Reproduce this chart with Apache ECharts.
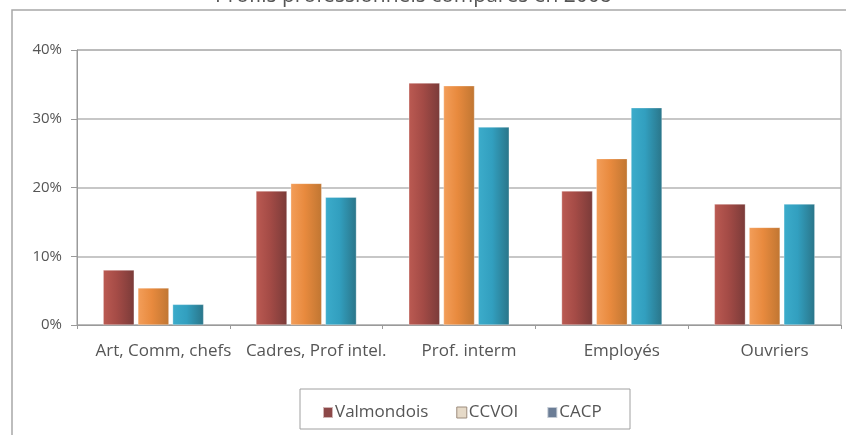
<!DOCTYPE html>
<html>
<head>
<meta charset="utf-8">
<script src="https://cdn.jsdelivr.net/npm/echarts@6/dist/echarts.min.js"></script>
<style>
  html, body { margin: 0; padding: 0; background: #fff; }
  #chart { width: 846px; height: 435px; }
</style>
</head>
<body>
<div id="chart"></div>
<script>
// Professional categories
const categories = ['Art, Comm, chefs', 'Cadres, Prof intel.', 'Prof. interm', 'Employés', 'Ouvriers'];

// Share of each category (%)
const valmondois = [8.0, 19.5, 35.2, 19.5, 17.6];
const ccvoi      = [5.4, 20.6, 34.8, 24.2, 14.2];
const cacp       = [3.0, 18.6, 28.8, 31.6, 17.6];

const seriesNames = ['Valmondois', 'CCVOI', 'CACP'];

const FONT = 'Open Sans';

function grad(light, mid, dark) {
  return new echarts.graphic.LinearGradient(0, 0, 1, 0, [
    { offset: 0, color: light },
    { offset: 0.45, color: mid },
    { offset: 1, color: dark }
  ]);
}

const chart = echarts.init(document.getElementById('chart'), null, { renderer: 'canvas' });

const barBase = {
  type: 'bar',
  barWidth: 31,
  barGap: '12%',
  itemStyle: { borderColor: 'rgba(255,255,255,0.6)', borderWidth: 0.5 }
};

chart.setOption({
  animation: false,
  backgroundColor: '#ffffff',
  title: {
    text: 'Profils professionnels comparés en 2008',
    left: 215,
    top: -14,
    padding: 0,
    textStyle: { fontFamily: FONT, fontSize: 21, fontWeight: 'normal', color: '#555' }
  },
  graphic: [
    { type: 'polyline', shape: { points: [[12, 435], [12, 10], [846, 10]] },
      style: { stroke: '#a8a8a8', lineWidth: 1.5, fill: null }, silent: true },
    { type: 'rect', shape: { x: 300, y: 389, width: 330, height: 40 },
      style: { stroke: '#a0a0a0', lineWidth: 1, fill: '#fff' }, z: -1, silent: true }
  ],
  grid: {
    left: 77, right: 5, top: 50, bottom: 110,
    show: true, borderColor: '#9a9a9a', borderWidth: 1
  },
  legend: {
    left: 317, top: 399,
    itemWidth: 10, itemHeight: 11, itemGap: 28,
    icon: 'rect',
    textStyle: { fontFamily: FONT, fontSize: 17, color: '#555', padding: [0, 0, 0, -3] },
    data: [
      { name: 'Valmondois', itemStyle: { color: '#8c4848' } },
      { name: 'CCVOI', itemStyle: { color: '#e6dac8', borderColor: '#9c8c7c', borderWidth: 1 } },
      { name: 'CACP', itemStyle: { color: '#6b7d96' } }
    ]
  },
  xAxis: {
    type: 'category',
    data: categories,
    axisLine: { lineStyle: { color: '#9a9a9a' } },
    axisTick: { show: true, length: 4, lineStyle: { color: '#9a9a9a' } },
    axisLabel: { fontFamily: FONT, fontSize: 17, color: '#555', margin: 18, interval: 0,
                 padding: [0, 0, 0, 20] }
  },
  yAxis: {
    type: 'value',
    min: 0, max: 40, interval: 10,
    axisLine: { show: true, lineStyle: { color: '#9a9a9a' } },
    axisTick: { show: true, length: 6, lineStyle: { color: '#9a9a9a' } },
    axisLabel: { fontFamily: FONT, fontSize: 15, color: '#555', margin: 15, formatter: '{value}%' },
    splitLine: { lineStyle: { color: '#b4b4b4', width: 1.5 } }
  },
  series: [
    Object.assign({}, barBase, { name: seriesNames[0], data: valmondois,
      itemStyle: Object.assign({}, barBase.itemStyle, { color: grad('#bb5a52', '#a44b46', '#7a3b39') }) }),
    Object.assign({}, barBase, { name: seriesNames[1], data: ccvoi,
      itemStyle: Object.assign({}, barBase.itemStyle, { color: grad('#f39e5a', '#e88a3e', '#c07632') }) }),
    Object.assign({}, barBase, { name: seriesNames[2], data: cacp,
      itemStyle: Object.assign({}, barBase.itemStyle, { color: grad('#3caccb', '#329fbf', '#2a7589') }) })
  ]
});
</script>
</body>
</html>
